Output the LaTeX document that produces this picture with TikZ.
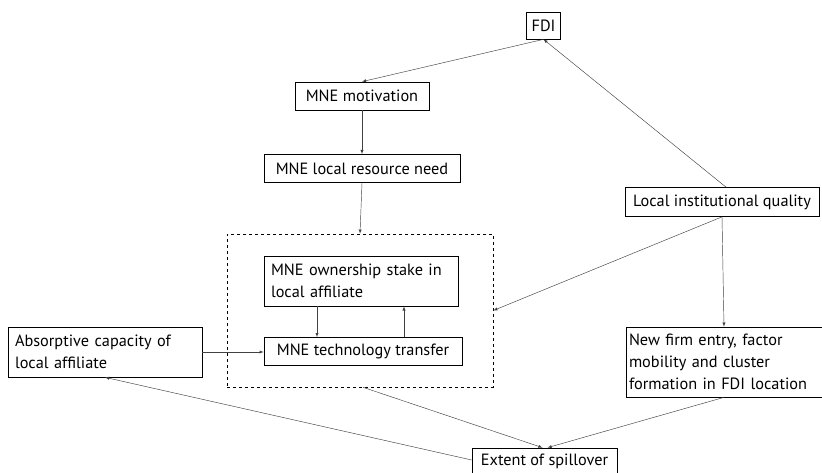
\documentclass[tikz,border=0pt]{standalone}
\usepackage{fontspec}
\setmainfont{PT Sans}
\usepackage{tikz}
\usetikzlibrary{arrows}

\begin{document}
\begin{tikzpicture}[x=1pt,y=-1pt,
		box/.style={rectangle,draw,line width=0.7pt,inner xsep=7pt,inner ysep=0pt,
			font=\fontsize{16.3}{22}\selectfont,minimum height=28pt,align=left},
		arr/.style={-latex,line width=0.45pt,black!75}]
		\useasboundingbox (0,0) rectangle (822,473);
%		\draw[help lines,step=50] (0,0) grid (822,473);
		\path (543.5,25.5) coordinate (fdi_c);
		\path (362,96) coordinate (motiv_c);
		\path (362,168.5) coordinate (need_c);
		\path (360,310.5) coordinate (grp_c);
		\path (361,281) coordinate (owner_c);
		\path (363,351.5) coordinate (tech_c);
		\path (105,352) coordinate (absorb_c);
		\path (722,202) coordinate (inst_c);
		\path (724,362) coordinate (newfirm_c);
		\path (544.5,461) coordinate (extent_c);

		\node[box,minimum height=27pt,inner xsep=5pt] (fdi) at (fdi_c) {FDI};
		\node[box,minimum width=134pt] (motiv) at (motiv_c) {MNE motivation};
		\node[box,minimum width=196pt] (need) at (need_c) {MNE local resource need};
		\node[rectangle,draw,dashed,line width=0.6pt,minimum width=266pt,minimum height=153pt] (grp) at (grp_c) {};
		\node[box,text width=180pt,minimum height=50pt] (owner) at (owner_c) {MNE ownership stake in\\local affiliate};
		\node[box,minimum width=198pt] (tech) at (tech_c) {MNE technology transfer};
		\node[box,text width=180pt,minimum height=50pt] (absorb) at (absorb_c) {Absorptive capacity of\\local affiliate};
		\node[box,minimum width=194pt,minimum height=29pt,inner xsep=4pt] (inst) at (inst_c) {Local institutional quality};
		\node[box,text width=190pt,inner xsep=3pt,minimum height=70pt] (newfirm) at (newfirm_c) {New firm entry, factor\\mobility and cluster\\formation in FDI location};
		\node[box,minimum width=145pt,minimum height=26pt] (extent) at (extent_c) {Extent of spillover};

		\draw[arr] (fdi.south) -- (motiv.north);
		\draw[arr] ([xshift=4pt]inst.north) -- (fdi.south);
		\draw[arr] (motiv.south) -- (need.north);
		\draw[arr] (need.south) -- (grp.north);
		\draw[arr] (inst.south) -- (grp.east);
		\draw[arr] (inst.south) -- (newfirm.north);
		\draw[arr] ([xshift=-44pt]owner.south) -- ([xshift=-44pt]owner.south |- tech.north);
		\draw[arr] ([xshift=43pt]owner.south |- tech.north) -- ([xshift=43pt]owner.south);
		\draw[arr] (absorb.east) -- (absorb.east -| tech.west);
		\draw[arr] ([xshift=3pt]grp.south) -- ([xshift=-2pt]extent.north);
		\draw[arr] (newfirm.south) -- ([xshift=3pt]extent.north);
		\draw[arr] ([yshift=1pt]extent.west) -- (absorb.south);

	\end{tikzpicture}
\end{document}
